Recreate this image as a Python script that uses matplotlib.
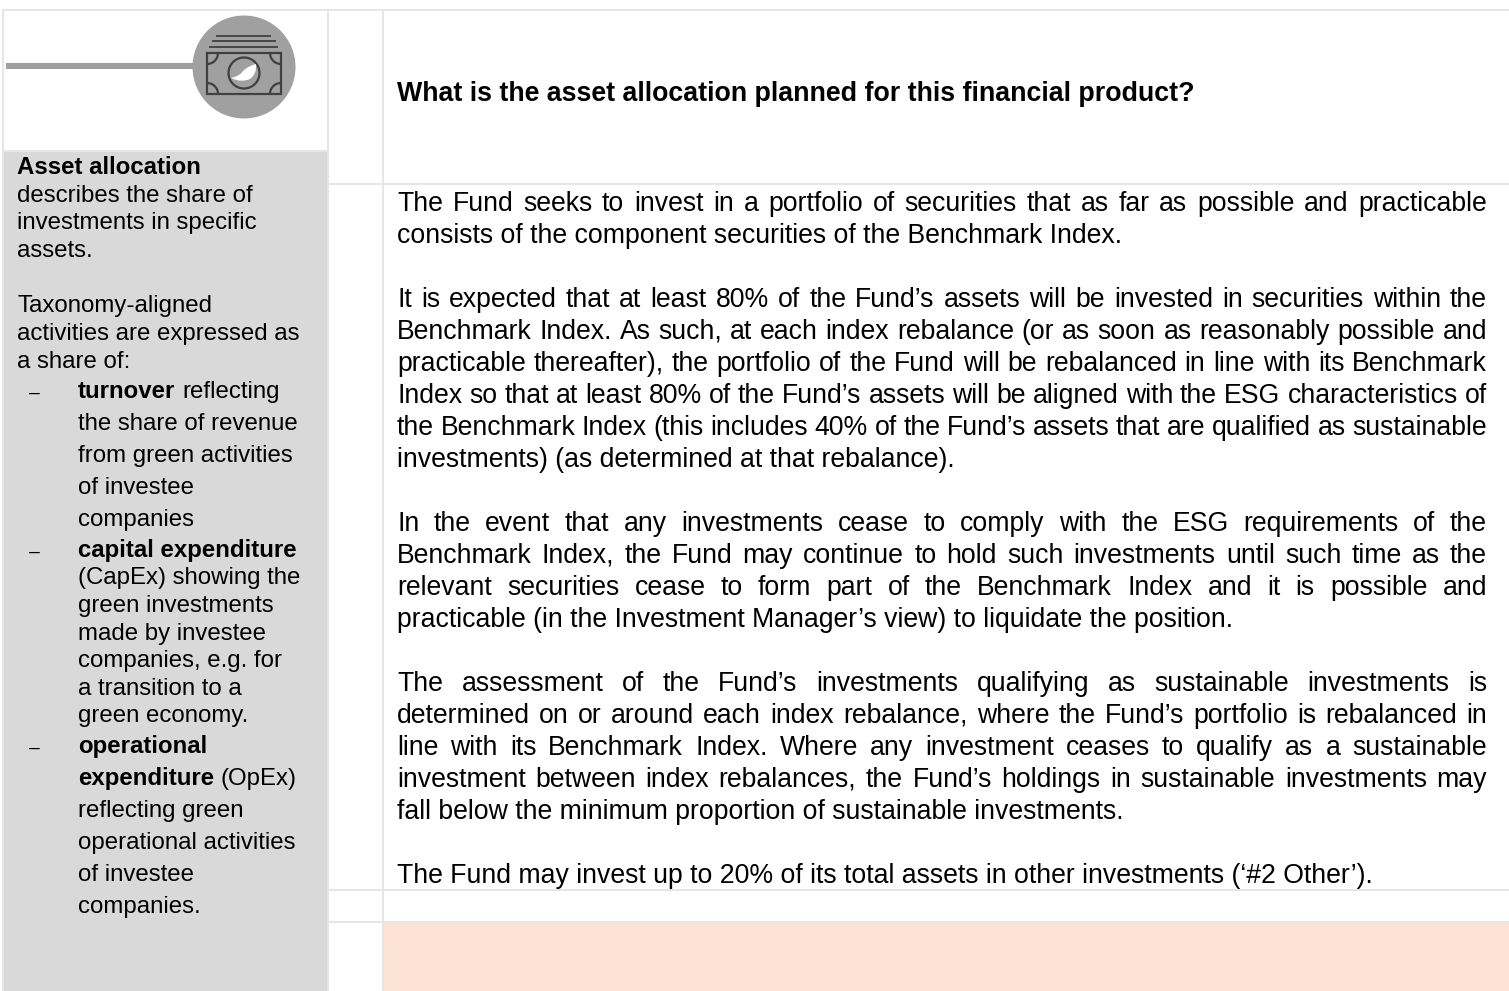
import numpy as np
import matplotlib
matplotlib.use("Agg")
import matplotlib.pyplot as plt
from matplotlib.patches import Rectangle, Circle, Arc, PathPatch
from matplotlib.path import Path

plt.rcParams['font.family'] = ['Liberation Sans', 'DejaVu Sans']

heading = "What is the asset allocation planned for this financial product?"

body_lines = [
    "The Fund seeks to invest in a portfolio of securities that as far as possible and practicable",
    "consists of the component securities of the Benchmark Index.",
    "It is expected that at least 80% of the Fund’s assets will be invested in securities within the",
    "Benchmark Index. As such, at each index rebalance (or as soon as reasonably possible and",
    "practicable thereafter), the portfolio of the Fund will be rebalanced in line with its Benchmark",
    "Index so that at least 80% of the Fund’s assets will be aligned with the ESG characteristics of",
    "the Benchmark Index (this includes 40% of the Fund’s assets that are qualified as sustainable",
    "investments) (as determined at that rebalance).",
    "In the event that any investments cease to comply with the ESG requirements of the",
    "Benchmark Index, the Fund may continue to hold such investments until such time as the",
    "relevant securities cease to form part of the Benchmark Index and it is possible and",
    "practicable (in the Investment Manager’s view) to liquidate the position.",
    "The assessment of the Fund’s investments qualifying as sustainable investments is",
    "determined on or around each index rebalance, where the Fund’s portfolio is rebalanced in",
    "line with its Benchmark Index. Where any investment ceases to qualify as a sustainable",
    "investment between index rebalances, the Fund’s holdings in sustainable investments may",
    "fall below the minimum proportion of sustainable investments.",
    "The Fund may invest up to 20% of its total assets in other investments (‘#2 Other’).",
]
body_y = [211, 243, 307, 339, 371, 403, 435, 467, 531, 563, 595, 627,
          691, 723, 755, 787, 819, 883]
body_just = [1, 0, 1, 1, 1, 1, 1, 0, 1, 1, 1, 0, 1, 1, 1, 1, 0, 0]

# (bold part, regular part, x, baseline)
side_lines = [
    ("Asset allocation", "", 17, 174),
    ("", "describes the share of", 17, 202),
    ("", "investments in specific", 17, 229),
    ("", "assets.", 17, 257),
    ("", "Taxonomy-aligned", 17, 312),
    ("", "activities are expressed as", 17, 340),
    ("", "a share of:", 17, 368),
    ("turnover", " reflecting", 78, 398),
    ("", "the share of revenue", 78, 430),
    ("", "from green activities", 78, 462),
    ("", "of investee", 78, 494),
    ("", "companies", 78, 526),
    ("capital expenditure", "", 78, 557),
    ("", "(CapEx) showing the", 78, 584),
    ("", "green investments", 78, 612),
    ("", "made by investee", 78, 640),
    ("", "companies, e.g. for", 78, 667),
    ("", "a transition to a", 78, 695),
    ("", "green economy.", 78, 722),
    ("operational", "", 78, 753),
    ("expenditure", " (OpEx)", 78, 785),
    ("", "reflecting green", 78, 817),
    ("", "operational activities", 78, 849),
    ("", "of investee", 78, 881),
    ("", "companies.", 78, 913),
]
dash_y = [398, 557, 753]

W, H = 1509, 991
fig = plt.figure(figsize=(W / 100, H / 100), dpi=100)
ax = fig.add_axes([0, 0, 1, 1])
ax.set_xlim(0, W)
ax.set_ylim(H, 0)
ax.axis('off')
rend = fig.canvas.get_renderer()

GRID = '#e6e6e6'
INK = '#000000'
BODY = 19.15
HEAD = 19.22
SIDE = 17.3

def rect(x0, y0, x1, y1, c, z=1):
    ax.add_patch(Rectangle((x0, y0), x1 - x0, y1 - y0, fc=c, ec='none', zorder=z))

rect(4, 152, 327, H, '#d9d9d9')
rect(384, 923, W, H, '#fce3d6')
for x in (3, 328, 383):
    rect(x - 1, 10, x + 1, H, GRID, 2)
rect(2, 9, W, 11, GRID, 2)
rect(4, 150, 327, 152, GRID, 2)
for y in (184, 890, 922):
    rect(328, y - 1, W, y + 1, GRID, 2)

# icon
GREY = '#a0a0a0'
DARK = '#404040'
rect(6, 63, 194, 69, GREY, 3)
ax.add_patch(Circle((244, 67), 51.5, fc=GREY, ec='none', zorder=4))
for y, a, b in [(35.5, 216, 271), (41, 212, 276), (46.5, 209, 278)]:
    ax.plot([a, b], [y, y], color=DARK, lw=1.3, zorder=5, solid_capstyle='butt')
note = Rectangle((207, 53), 74, 41, fc='none', ec=DARK, lw=1.6, zorder=5)
ax.add_patch(note)
ax.add_patch(Circle((244, 73), 15.5, fc='none', ec=DARK, lw=1.6, zorder=5))
for cx, cy in [(207, 53), (281, 53), (207, 94), (281, 94)]:
    arc = Arc((cx, cy), 22, 22, fc='none', ec=DARK, lw=1.6, zorder=5)
    ax.add_patch(arc)
    arc.set_clip_path(note)
leaf = Path([(231, 78), (240, 76), (243, 71), (248, 66), (256, 64), (257, 74), (250, 79),
             (241, 83), (231, 78)],
            [Path.MOVETO, Path.CURVE3, Path.CURVE3, Path.CURVE3, Path.CURVE3, Path.CURVE3,
             Path.CURVE3, Path.CURVE3, Path.CURVE3])
ax.add_patch(PathPatch(leaf, fc='white', ec='none', zorder=6))

def width(s, **kw):
    t = ax.text(0, 0, s, **kw)
    w = t.get_window_extent(rend).width
    t.remove()
    return w

# heading
ax.text(397, 101, heading, fontsize=HEAD, fontweight='bold', color=INK, va='baseline', zorder=7)

# body
LEFT, RIGHT = 397, 1487
for line, y, j in zip(body_lines, body_y, body_just):
    if not j:
        ax.text(LEFT, y, line, fontsize=BODY, color=INK, va='baseline', zorder=7)
        continue
    words = line.split()
    ws = [width(w, fontsize=BODY) for w in words]
    gap = (RIGHT - LEFT - sum(ws)) / (len(words) - 1)
    x = LEFT
    for w, wd in zip(words, ws):
        ax.text(x, y, w, fontsize=BODY, color=INK, va='baseline', zorder=7)
        x += wd + gap

# sidebar
for bold, reg, x, y in side_lines:
    if bold:
        ax.text(x, y, bold, fontsize=SIDE, fontweight='bold', color=INK, va='baseline', zorder=7)
        x += width(bold, fontsize=SIDE, fontweight='bold')
    if reg:
        stripped = reg.lstrip()
        if stripped != reg:
            x += width("a a", fontsize=SIDE) - width("aa", fontsize=SIDE)
        ax.text(x, y, stripped, fontsize=SIDE, color=INK, va='baseline', zorder=7)
for y in dash_y:
    ax.text(29, y, "–", fontsize=SIDE * 0.8, color=INK, va='baseline', zorder=7)

fig.savefig('out.png', dpi=100, facecolor='white')
